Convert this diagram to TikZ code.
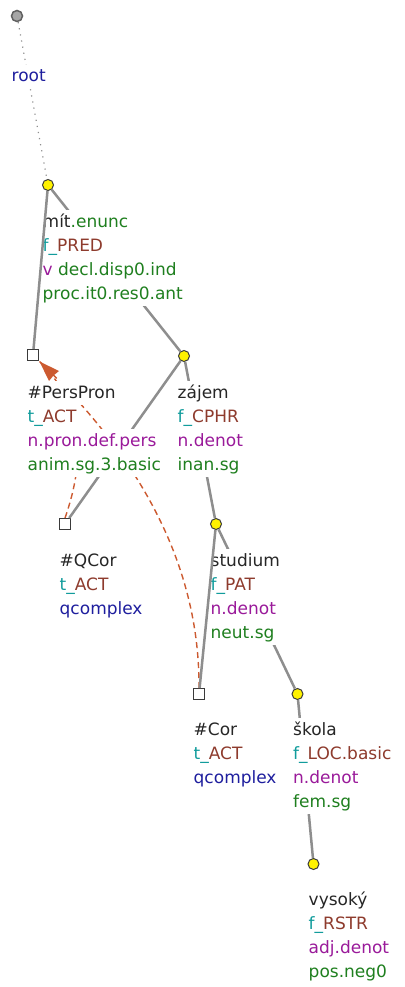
\documentclass[tikz,border=0pt]{standalone}
\usepackage{fontspec}
\setmainfont{DejaVu Sans}
\usetikzlibrary{arrows.meta,calc}
\definecolor{lemc}{HTML}{262626}
\definecolor{tl}{HTML}{119C9C}
\definecolor{brn}{HTML}{8E3B2D}
\definecolor{pur}{HTML}{9A1A9A}
\definecolor{grn}{HTML}{1F7F1F}
\definecolor{blu}{HTML}{1E1E9E}
\definecolor{refc}{HTML}{CC5A30}
\definecolor{edgec}{HTML}{8E8E8E}
\definecolor{outl}{HTML}{3A3A3A}
\tikzset{
  ln/.style={anchor=base west, inner xsep=1.5pt, inner ysep=0pt, text height=17pt, text depth=7pt, fill=white, font=\fontsize{17}{24}\selectfont},
  ynode/.style={circle, draw=outl, fill=yellow, line width=1pt, minimum size=11pt, inner sep=0pt},
  snode/.style={rectangle, draw=outl, fill=white, line width=1pt, minimum size=11pt, inner sep=0pt},
  rnode/.style={circle, draw=outl!80, fill=black!35, line width=1.5pt, minimum size=11pt, inner sep=0pt},
  edg/.style={draw=edgec, line width=2.5pt},
  dotedg/.style={draw=edgec, line width=1.2pt, dash pattern=on 1.2pt off 5pt},
  coref/.style={draw=refc, line width=1.4pt, dash pattern=on 6pt off 4pt},
  corefhead/.style={draw=none, fill=refc}
}
\begin{document}
\begin{tikzpicture}[x=1pt,y=-1pt]
\useasboundingbox (0,0) rectangle (404,987);
% tree nodes
\node[rnode] (root) at (17,16) {};
\node[ynode] (mit) at (48,185) {};
\node[snode] (pp) at (33,355) {};
\node[ynode] (zaj) at (184,356) {};
\node[snode] (qcor) at (65,524) {};
\node[ynode] (stu) at (216,524) {};
\node[snode] (cor) at (199,694) {};
\node[ynode] (sko) at (297.5,694) {};
\node[ynode] (vys) at (313.5,864) {};
% edges hidden by labels
\draw[dotedg] (root) -- (mit);
\draw[edg] (mit) -- (zaj);
\draw[edg] (zaj) -- (qcor);
\draw[edg] (zaj) -- (stu);
\draw[edg] (stu) -- (sko);
\draw[edg] (sko) -- (vys);
% coreference arrows
\coordinate (ppend) at ($(pp.south east)+(0.5,0.5)$);
\draw[coref] (cor.north) .. controls ($(cor.north)+(0.7,-115)$) and ($(ppend)+(108,103)$) .. (ppend);
\draw[coref] (qcor.north) .. controls ($(qcor.north)+(23,-66)$) and ($(ppend)+(41,40)$) .. (ppend);
% arrowhead (pointing up-left to the PersPron square)
\fill[corefhead] (ppend) -- ($(ppend)+(9.5,19.5)$) -- ($(ppend)+(14,14)$) -- ($(ppend)+(19.5,9.5)$) -- cycle;
% labels
\node[ln] (root2) at (10,82) {\textcolor{blu}{root}};
\node[ln] (mit1) at (41,227) {\textcolor{lemc}{mít}\textcolor{grn}{.enunc}};
\node[ln, text width=67pt, align=left] (mit2) at (41,251) {\textcolor{tl}{f\_}\textcolor{brn}{PRED}};
\node[ln] (mit3) at (41,275) {\textcolor{pur}{v} \textcolor{grn}{decl.disp0.ind}};
\node[ln] (mit4) at (41,299) {\textcolor{grn}{proc.it0.res0.ant}};
\node[ln] (pp1) at (26,398) {\textcolor{lemc}{\#PersPron}};
\node[ln] (pp2) at (26,422) {\textcolor{tl}{t\_}\textcolor{brn}{ACT}};
\node[ln] (pp3) at (26,446) {\textcolor{pur}{n.pron.def.pers}};
\node[ln] (pp4) at (26,470) {\textcolor{grn}{anim.sg.3.basic}};
\node[ln] (zaj1) at (176,398) {\textcolor{lemc}{zájem}};
\node[ln] (zaj2) at (176,422) {\textcolor{tl}{f\_}\textcolor{brn}{CPHR}};
\node[ln] (zaj3) at (176,446) {\textcolor{pur}{n.denot}};
\node[ln] (zaj4) at (176,470) {\textcolor{grn}{inan.sg}};
\node[ln] (qcor1) at (58,566) {\textcolor{lemc}{\#QCor}};
\node[ln] (qcor2) at (58,590) {\textcolor{tl}{t\_}\textcolor{brn}{ACT}};
\node[ln] (qcor3) at (58,614) {\textcolor{blu}{qcomplex}};
\node[ln] (stu1) at (209,566) {\textcolor{lemc}{studium}};
\node[ln] (stu2) at (209,590) {\textcolor{tl}{f\_}\textcolor{brn}{PAT}};
\node[ln] (stu3) at (209,614) {\textcolor{pur}{n.denot}};
\node[ln] (stu4) at (209,638) {\textcolor{grn}{neut.sg}};
\node[ln] (cor1) at (192,735) {\textcolor{lemc}{\#Cor}};
\node[ln] (cor2) at (192,759) {\textcolor{tl}{t\_}\textcolor{brn}{ACT}};
\node[ln] (cor3) at (192,783) {\textcolor{blu}{qcomplex}};
\node[ln] (sko1) at (291.5,735) {\textcolor{lemc}{škola}};
\node[ln] (sko2) at (291.5,759) {\textcolor{tl}{f\_}\textcolor{brn}{LOC.basic}};
\node[ln] (sko3) at (291.5,783) {\textcolor{pur}{n.denot}};
\node[ln] (sko4) at (291.5,807) {\textcolor{grn}{fem.sg}};
\node[ln] (vys1) at (307,905) {\textcolor{lemc}{vysoký}};
\node[ln] (vys2) at (307,929) {\textcolor{tl}{f\_}\textcolor{brn}{RSTR}};
\node[ln] (vys3) at (307,953) {\textcolor{pur}{adj.denot}};
\node[ln] (vys4) at (307,977) {\textcolor{grn}{pos.neg0}};
% edges drawn over labels
\draw[edg] (mit) -- (pp);
\draw[edg] (stu) -- (cor);
\end{tikzpicture}
\end{document}
